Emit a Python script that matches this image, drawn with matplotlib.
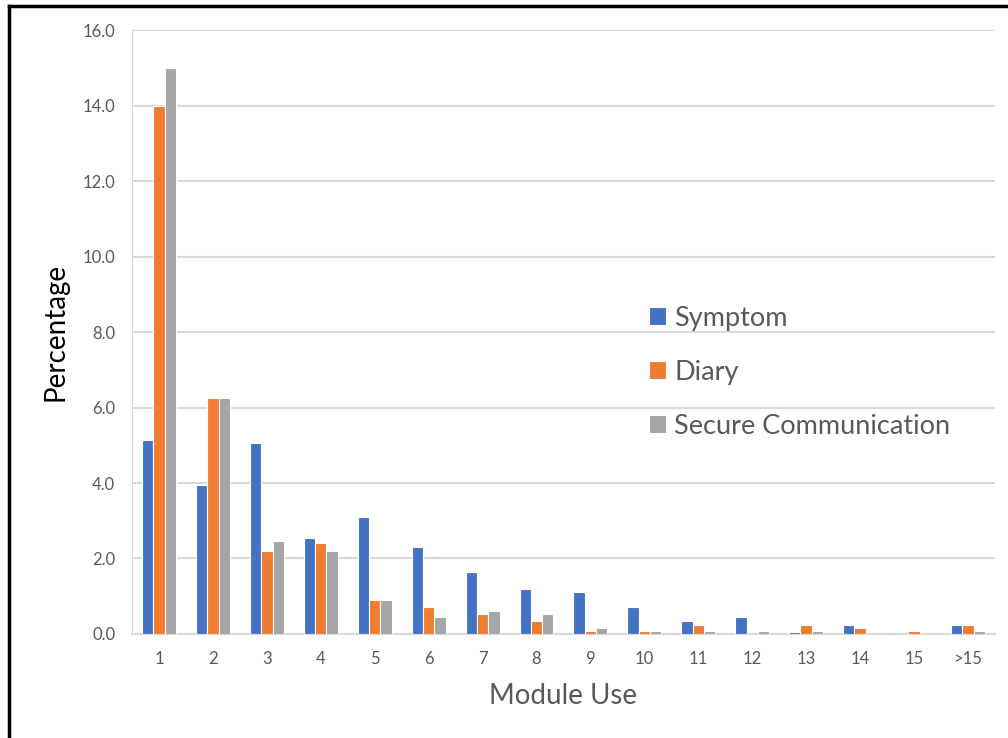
import numpy as np
import matplotlib
matplotlib.use("Agg")
import matplotlib.pyplot as plt

plt.rcParams['font.family'] = ['Lato', 'DejaVu Sans']

categories = ['1', '2', '3', '4', '5', '6', '7', '8', '9', '10', '11', '12', '13', '14', '15', '>15']
symptom = [5.15, 3.95, 5.05, 2.55, 3.1, 2.3, 1.65, 1.2, 1.1, 0.72, 0.35, 0.45, 0.06, 0.25, 0.0, 0.25]
diary = [14.0, 6.25, 2.2, 2.4, 0.9, 0.72, 0.52, 0.35, 0.08, 0.08, 0.25, 0.0, 0.25, 0.16, 0.07, 0.25]
secure = [15.0, 6.25, 2.47, 2.2, 0.9, 0.45, 0.6, 0.52, 0.16, 0.08, 0.08, 0.08, 0.08, 0.0, 0.0, 0.08]

series = [('Symptom', symptom, '#4472c4'),
          ('Diary', diary, '#ed7d31'),
          ('Secure Communication', secure, '#a5a5a5')]

fig = plt.figure(figsize=(10.08, 7.38), dpi=100)
ax = fig.add_axes([0.131, 0.141, 0.856, 0.818])

x = np.arange(len(categories))
w = 0.21
for i, (name, vals, col) in enumerate(series):
    ax.bar(x + (i - 1) * w, vals, width=w, color=col, edgecolor='white', linewidth=0.8, label=name, zorder=3)

ax.set_xlim(-0.5, len(categories) - 0.5)
ax.set_ylim(0, 16)
ax.set_yticks(np.arange(0, 16.1, 2))
ax.set_yticklabels(['%.1f' % v for v in np.arange(0, 16.1, 2)])
ax.set_xticks(x)
ax.set_xticklabels(categories)
ax.grid(axis='y', color='#d9d9d9', linewidth=1.5, zorder=0)
ax.tick_params(length=0, labelsize=12, labelcolor='#595959', pad=12)
for s in ['top', 'right']:
    ax.spines[s].set_visible(False)
ax.spines['left'].set_color('#d9d9d9')
ax.spines['bottom'].set_color('#d9d9d9')
ax.spines['bottom'].set_linewidth(1.5)

ax.set_xlabel('Module Use', fontsize=20, color='#595959', labelpad=12)
ax.set_ylabel('Percentage', fontsize=20, color='black', labelpad=10)

ax.legend(loc='upper left', bbox_to_anchor=(0.571, 0.584), frameon=False, fontsize=19.5,
          labelcolor='#595959', handlelength=0.62, handleheight=0.62, handletextpad=0.3,
          labelspacing=1.07)

# outer frame (left and top edges)
fig.add_artist(plt.Line2D([0.009, 0.009], [0, 0.992], color='black', linewidth=2.5, transform=fig.transFigure))
fig.add_artist(plt.Line2D([0.009, 1.0], [0.992, 0.992], color='black', linewidth=2.5, transform=fig.transFigure))

fig.savefig('out.png', dpi=100)
